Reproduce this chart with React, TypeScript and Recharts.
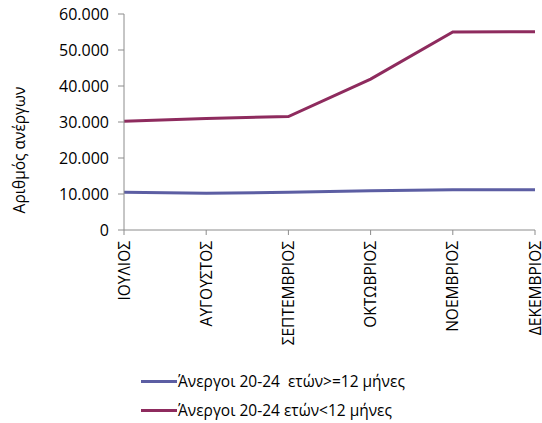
import React from 'react';
import { LineChart, Line, XAxis, YAxis, Legend } from 'recharts';

const months = ['ΙΟΥΛΙΟΣ', 'ΑΥΓΟΥΣΤΟΣ', 'ΣΕΠΤΕΜΒΡΙΟΣ', 'ΟΚΤΩΒΡΙΟΣ', 'ΝΟΕΜΒΡΙΟΣ', 'ΔΕΚΕΜΒΡΙΟΣ'];
const longTerm = [10500, 10200, 10500, 10900, 11200, 11200];
const shortTerm = [30200, 31000, 31500, 41900, 55000, 55100];
const yTicks = [0, 10000, 20000, 30000, 40000, 50000, 60000];

const SERIES_LONG = 'Άνεργοι 20-24  ετών>=12 μήνες';
const SERIES_SHORT = 'Άνεργοι 20-24 ετών<12 μήνες';

const data = months.map((m, i) => ({ month: m, long: longTerm[i], short: shortTerm[i] }));

const FONT = '"Open Sans", sans-serif';
const AXIS = '#8c8c8c';

const fmt = (v: number) => v.toLocaleString('de-DE');

const MonthTick = (props: any) => {
  const { x, y, payload } = props;
  return (
    <text
      x={x}
      y={y}
      dy="0.36em"
      transform={`rotate(-90, ${x}, ${y})`}
      textAnchor="end"
      fill="#000"
      fontSize={15.5}
      fontFamily={FONT}
    >
      {payload.value}
    </text>
  );
};

const LegendBox = () => {
  const items = [
    { name: SERIES_LONG, color: '#5c5ea3' },
    { name: SERIES_SHORT, color: '#8e2b5e' },
  ];
  return (
    <div style={{ position: 'relative', height: 83, fontFamily: FONT, fontSize: 15.5 }}>
      {items.map((it, i) => (
        <div
          key={it.name}
          style={{ position: 'absolute', left: 141, top: 30 + i * 29, display: 'flex', alignItems: 'center', whiteSpace: 'pre' }}
        >
          <span style={{ display: 'inline-block', width: 36, height: 3, background: it.color, marginRight: 1 }} />
          <span>{it.name}</span>
        </div>
      ))}
    </div>
  );
};

export default function App() {
  return (
    <div style={{ position: 'absolute', left: 0, top: 0, width: 542, height: 423, background: '#fff' }}>
      <LineChart width={542} height={423} data={data} margin={{ top: 14, right: 7, left: 0, bottom: 0 }}>
        <XAxis
          dataKey="month"
          interval={0}
          height={110}
          tick={<MonthTick />}
          tickSize={5}
          tickMargin={6}
          axisLine={{ stroke: AXIS }}
          tickLine={{ stroke: AXIS }}
        />
        <YAxis
          domain={[0, 60000]}
          ticks={yTicks}
          width={124}
          tickFormatter={fmt}
          tickSize={6}
          tickMargin={9}
          tick={{ fill: '#000', fontSize: 16, fontFamily: FONT }}
          axisLine={{ stroke: AXIS }}
          tickLine={{ stroke: AXIS }}
          label={{
            value: 'Αριθμός ανέργων',
            angle: -90,
            position: 'insideLeft',
            dx: 14,
            dy: 28,
            style: { textAnchor: 'middle', fill: '#000', fontSize: 15.5, fontFamily: FONT },
          }}
        />
        <Line
          type="linear"
          dataKey="long"
          name={SERIES_LONG}
          stroke="#5c5ea3"
          strokeWidth={3}
          dot={false}
          isAnimationActive={false}
        />
        <Line
          type="linear"
          dataKey="short"
          name={SERIES_SHORT}
          stroke="#8e2b5e"
          strokeWidth={3}
          dot={false}
          isAnimationActive={false}
        />
        <Legend
          verticalAlign="bottom"
          height={83}
          content={<LegendBox />}
          wrapperStyle={{ left: 0, width: 542, bottom: 0 }}
        />
      </LineChart>
    </div>
  );
}
